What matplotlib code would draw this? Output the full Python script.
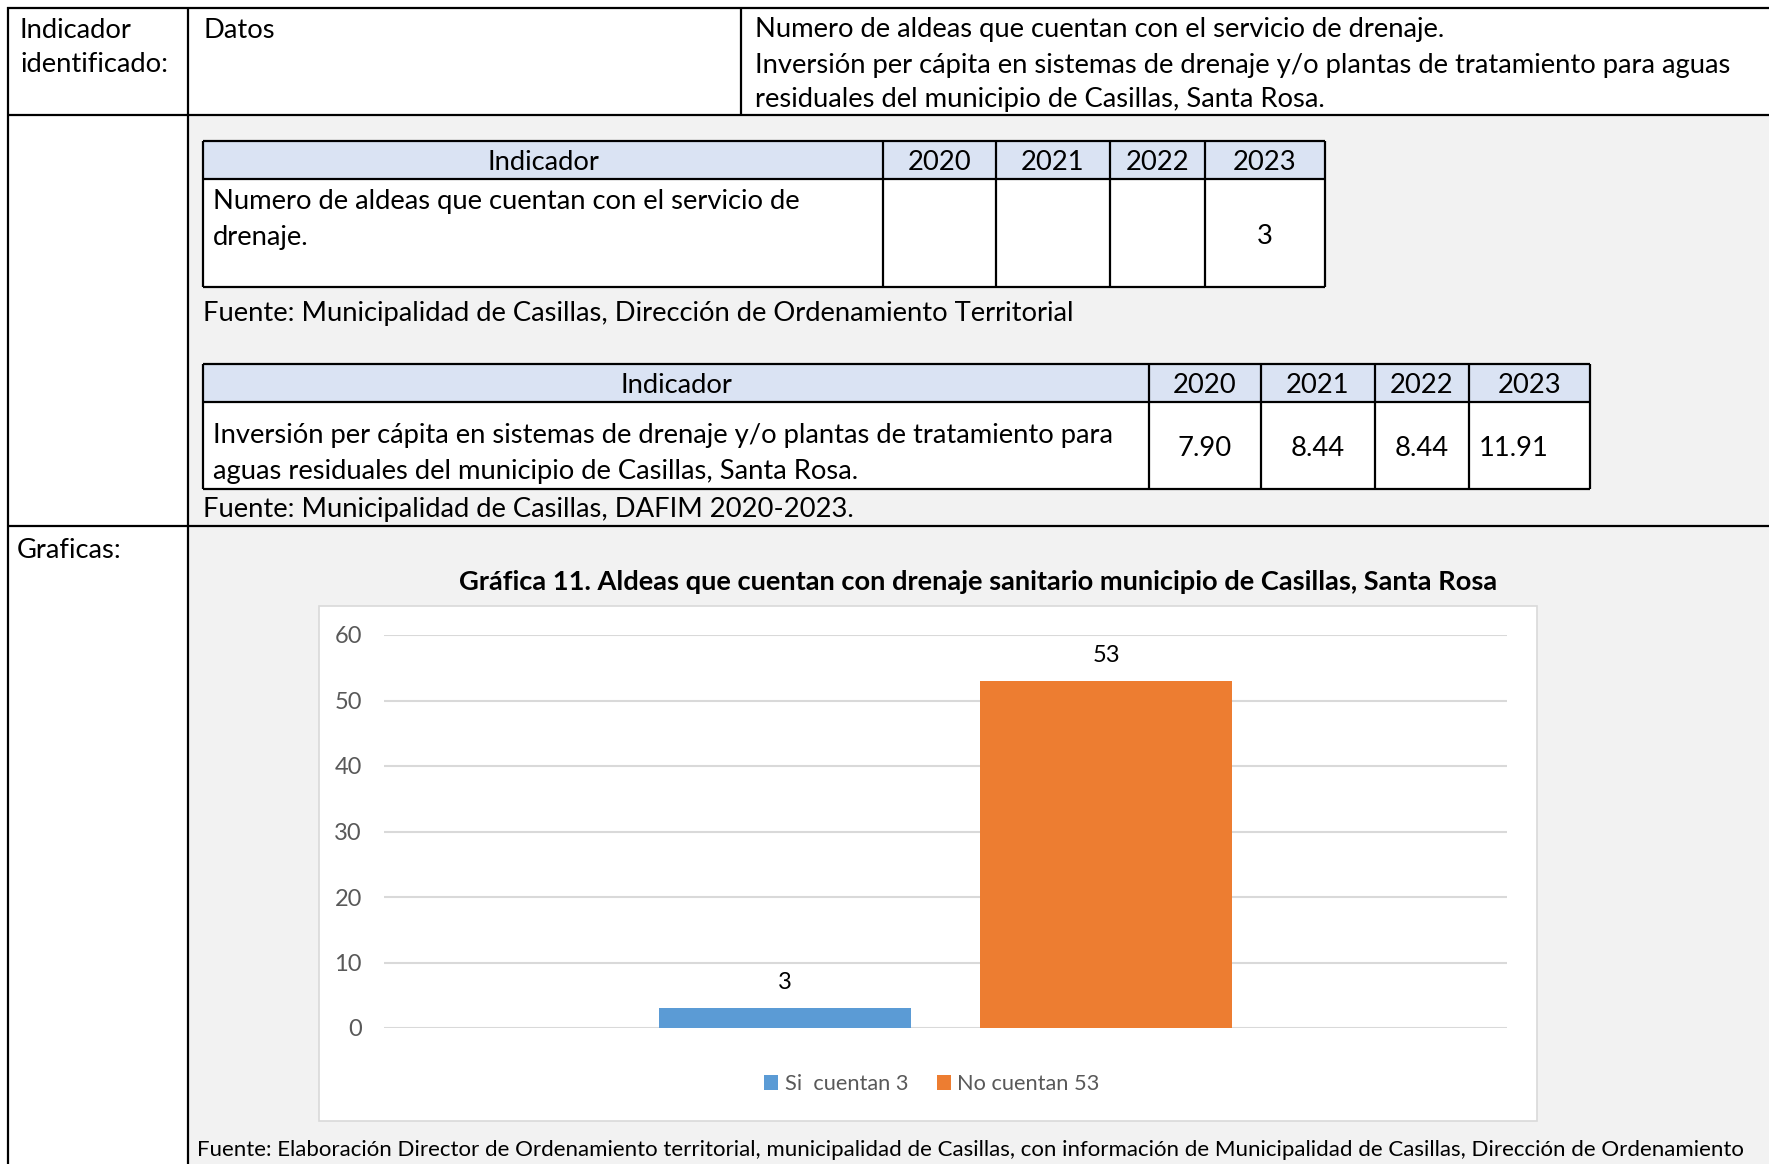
import matplotlib
matplotlib.use("Agg")
import matplotlib.pyplot as plt
from matplotlib.patches import Rectangle

plt.rcParams['font.family'] = ['Lato', 'DejaVu Sans']

# ---------------- data ----------------
row_label_1 = ["Indicador", "identificado:"]
datos_label = "Datos"
indicator_text = ["Numero de aldeas que cuentan con el servicio de drenaje.",
                  "Inversión per cápita en sistemas de drenaje y/o plantas de tratamiento para aguas",
                  "residuales del municipio de Casillas, Santa Rosa."]
years = ["2020", "2021", "2022", "2023"]
t1_indicator = ["Numero de aldeas que cuentan con el servicio de", "drenaje."]
t1_values = ["", "", "", "3"]
t1_source = "Fuente: Municipalidad de Casillas, Dirección de Ordenamiento Territorial"
t2_indicator = ["Inversión per cápita en sistemas de drenaje y/o plantas de tratamiento para",
                "aguas residuales del municipio de Casillas, Santa Rosa."]
t2_values = ["7.90", "8.44", "8.44", "11.91"]
t2_source = "Fuente: Municipalidad de Casillas, DAFIM 2020-2023."
graficas_label = "Graficas:"
chart_title = "Gráfica 11. Aldeas que cuentan con drenaje sanitario municipio de Casillas, Santa Rosa"
series_names = ["Si  cuentan 3", "No cuentan 53"]
series_values = [3, 53]
series_colors = ["#5b9bd5", "#ed7d31"]
yticks = [0, 10, 20, 30, 40, 50, 60]
bottom_source = ("Fuente: Elaboración Director de Ordenamiento territorial, municipalidad de Casillas, "
                 "con información de Municipalidad de Casillas, Dirección de Ordenamiento")

W, H = 1769, 1164
fig = plt.figure(figsize=(W / 100, H / 100), dpi=100)
bg = fig.add_axes([0, 0, 1, 1])
bg.set_xlim(0, W)
bg.set_ylim(H, 0)
bg.axis('off')

FS = 19.7
LW = 1.6

# gray background
bg.add_patch(Rectangle((188, 115), W - 188, H - 115, fc="#f2f2f2", ec="none", zorder=0))

def hline(y, x0, x1, lw=LW, c="black"):
    bg.plot([x0, x1], [y, y], color=c, lw=lw, solid_capstyle='butt', zorder=3)

def vline(x, y0, y1, lw=LW, c="black"):
    bg.plot([x, x], [y0, y1], color=c, lw=lw, solid_capstyle='butt', zorder=3)

hline(8, 7, W)
hline(115, 7, W)
hline(526, 7, W)
vline(8, 7, H)
vline(188, 7, H)
vline(741, 7, 115)

# row 1 text
bg.text(20, 30, row_label_1[0], fontsize=FS, va='center')
bg.text(20, 65, row_label_1[1], fontsize=FS, va='center')
bg.text(203, 30, datos_label, fontsize=FS, va='center')
for i, t in enumerate(indicator_text):
    bg.text(755, 30 + 35 * i, t, fontsize=FS, va='center')

# ---------- table helper ----------
def draw_table(left, right, top, hbot, bot, cols, ind_lines, ind_y, values, val_y, val_align):
    bg.add_patch(Rectangle((left, top), right - left, hbot - top, fc="#dae3f3", ec="none", zorder=1))
    bg.add_patch(Rectangle((left, hbot), right - left, bot - hbot, fc="white", ec="none", zorder=1))
    hline(top, left, right)
    hline(hbot, left, right)
    hline(bot, left, right)
    edges = [left] + cols + [right]
    for x in edges:
        vline(x, top, bot)
    hy = (top + hbot) / 2 + 2.5
    bg.text((left + cols[0]) / 2, hy, "Indicador", fontsize=FS, ha='center', va='center', zorder=4)
    for i, yr in enumerate(years):
        bg.text((edges[i + 1] + edges[i + 2]) / 2, hy, yr, fontsize=FS, ha='center', va='center', zorder=4)
    for i, t in enumerate(ind_lines):
        bg.text(left + 10, ind_y[i], t, fontsize=FS, va='center', zorder=4)
    for i, v in enumerate(values):
        if val_align[i] == 'left':
            bg.text(edges[i + 1] + 10, val_y, v, fontsize=FS, ha='left', va='center', zorder=4)
        else:
            bg.text((edges[i + 1] + edges[i + 2]) / 2, val_y, v, fontsize=FS, ha='center', va='center', zorder=4)

draw_table(203, 1325, 141, 179, 287, [883, 996, 1110, 1205], t1_indicator, [201, 237],
           t1_values, 237, ['center'] * 4)
bg.text(203, 313, t1_source, fontsize=FS, va='center')

draw_table(203, 1590, 364, 402, 489, [1149, 1261, 1375, 1469], t2_indicator, [436, 472],
           t2_values, 448, ['center', 'center', 'center', 'left'])
bg.text(203, 510, t2_source, fontsize=FS, va='center')

bg.text(17, 550, graficas_label, fontsize=FS, va='center')

# chart
bg.text(978, 582, chart_title, fontsize=19.6, fontweight='bold', ha='center', va='center')
bg.add_patch(Rectangle((319, 606), 1537 - 319, 1121 - 606, fc="white", ec="#d9d9d9", lw=1.2, zorder=1))

ax_l, ax_r, ax_t, ax_b = 384, 1507, 635, 1028
ax = fig.add_axes([ax_l / W, 1 - ax_b / H, (ax_r - ax_l) / W, (ax_b - ax_t) / H])
ax.set_facecolor("none")
ax.set_xlim(-0.5, 0.5)
ax.set_ylim(0, 60)
offsets = [-0.143, 0.143]
bw = 0.225
for name, val, col, off in zip(series_names, series_values, series_colors, offsets):
    ax.bar(off, val, width=bw, color=col, label=name, zorder=3)
    ax.annotate(str(val), (off, val), xytext=(0, 11), textcoords='offset points',
                ha='center', va='bottom', fontsize=17, color='black')
ax.set_yticks(yticks)
ax.yaxis.grid(True, color="#d9d9d9", lw=1.5, zorder=0)
ax.set_xticks([])
for s in ax.spines.values():
    s.set_visible(False)
ax.tick_params(axis='y', length=0, pad=16, labelsize=17, labelcolor="#595959")

leg = ax.legend(loc='center', bbox_to_anchor=((932 - ax_l) / (ax_r - ax_l), -(1084 - ax_b) / (ax_b - ax_t)),
                ncol=2, frameon=False, fontsize=15.7, handlelength=0.65, handleheight=0.65,
                handletextpad=0.3, columnspacing=1.3, labelcolor="#595959")

bg.text(197, 1150, bottom_source, fontsize=16, va='center')

fig.savefig("out.png", dpi=100)
